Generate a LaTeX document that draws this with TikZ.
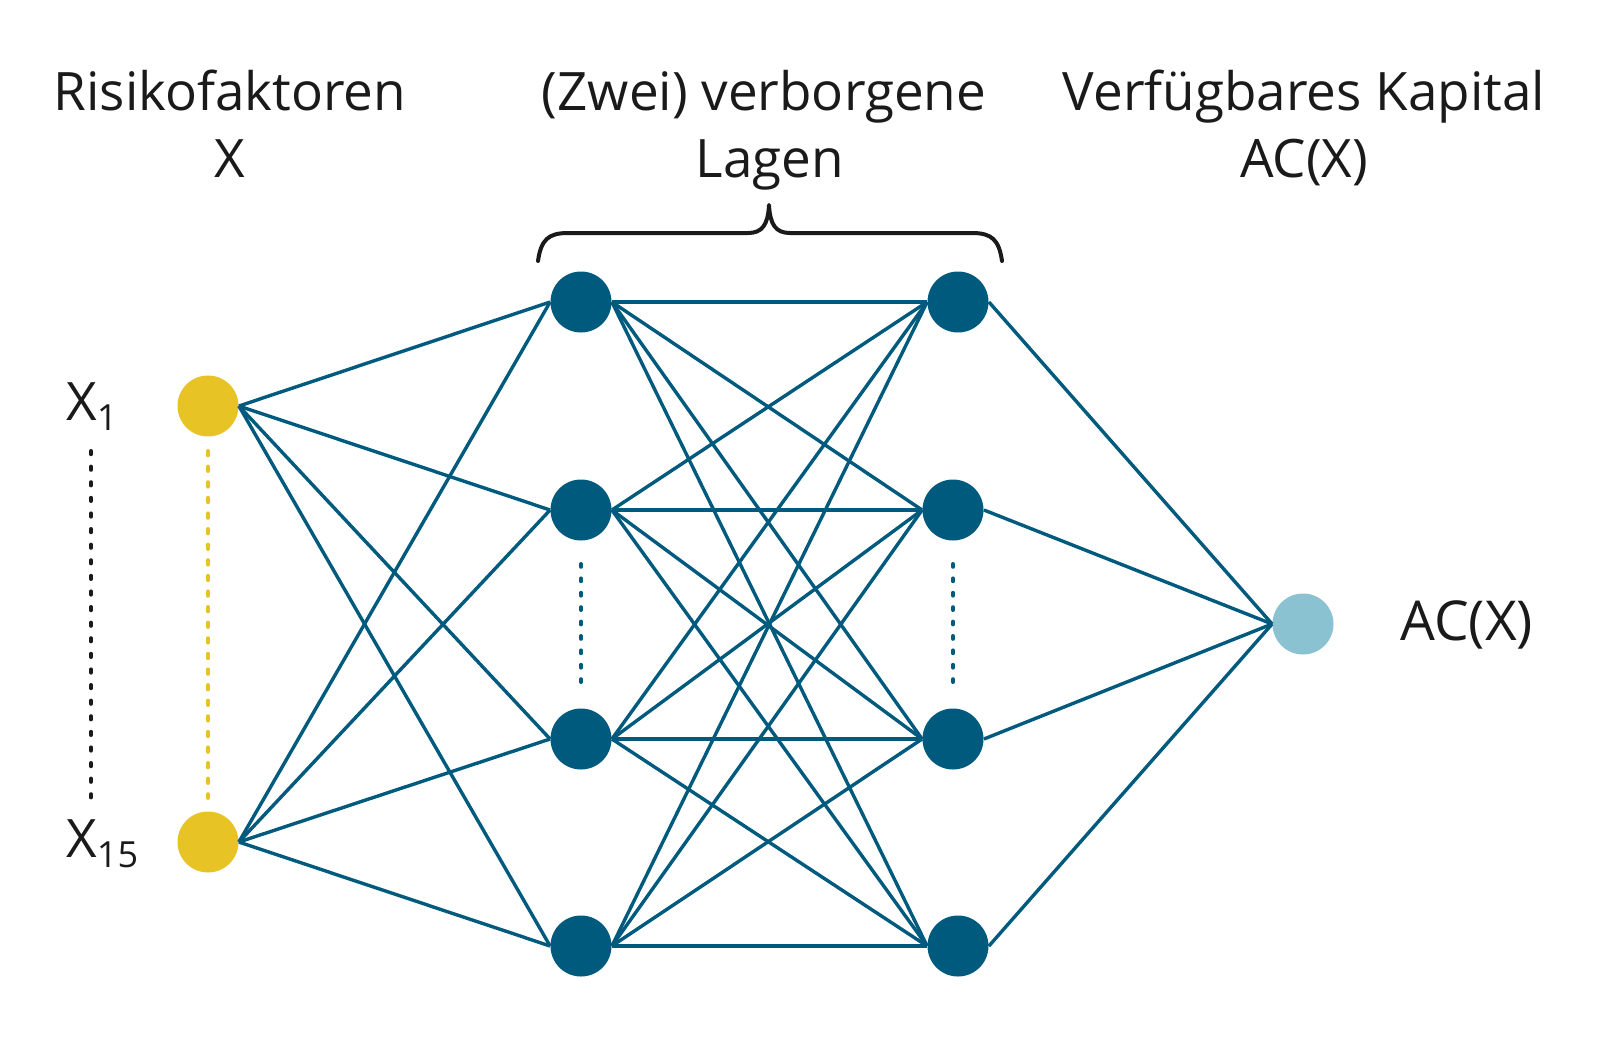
\documentclass[tikz,border=0pt]{standalone}
\usepackage{fontspec}
\setmainfont{Open Sans}
\definecolor{nnblue}{HTML}{005A7D}
\definecolor{nnyellow}{HTML}{E8C326}
\definecolor{nnlight}{HTML}{8AC2D2}
\definecolor{nntext}{HTML}{1A1A1A}
\begin{document}
\begin{tikzpicture}[x=0.5pt,y=-0.5pt,
  neuron/.style={circle,minimum size=30.5pt,inner sep=0pt,fill=nnblue},
  inneuron/.style={neuron,fill=nnyellow},
  outneuron/.style={neuron,fill=nnlight},
  conn/.style={draw=nnblue,line width=1.7pt},
  lbl/.style={text=nntext,font=\fontsize{26.5pt}{31pt}\selectfont,inner sep=0pt,anchor=base},
  dotline/.style={line width=2pt,line cap=round,dash pattern=on 1.6pt off 6.2pt}
]
\useasboundingbox (0,0) rectangle (1600,1050);

% nodes
\node[inneuron] (i1) at (208,406) {};
\node[inneuron] (i2) at (208,842) {};
\node[neuron] (a1) at (581,302) {};
\node[neuron] (a2) at (581,510) {};
\node[neuron] (a3) at (581,739) {};
\node[neuron] (a4) at (581,946) {};
\node[neuron] (b1) at (958,302) {};
\node[neuron] (b2) at (953,510) {};
\node[neuron] (b3) at (953,739) {};
\node[neuron] (b4) at (958,946) {};
\node[outneuron] (o) at (1303,624) {};

% connections
\foreach \s in {i1,i2}{\foreach \t in {a1,a2,a3,a4}{\draw[conn] (\s.east) -- (\t.west);}}
\foreach \s in {a1,a2,a3,a4}{\foreach \t in {b1,b2,b3,b4}{\draw[conn] (\s.east) -- (\t.west);}}
\foreach \s in {b1,b2,b3,b4}{\draw[conn] (\s.east) -- (o.west);}

% dotted ellipses
\coordinate (dk1) at (91,451); \coordinate (dk2) at (91,798);
\coordinate (dy1) at (208,451); \coordinate (dy2) at (208,798);
\coordinate (da1) at (581,564); \coordinate (da2) at (581,684);
\coordinate (db1) at (953,564); \coordinate (db2) at (953,684);
\draw[dotline,draw=nntext] (dk1) -- (dk2);
\draw[dotline,draw=nnyellow,dash pattern=on 2.2pt off 5.6pt] (dy1) -- (dy2);
\draw[dotline,draw=nnblue,dash pattern=on 1.4pt off 5.8pt] (da1) -- (da2);
\draw[dotline,draw=nnblue,dash pattern=on 1.4pt off 5.8pt] (db1) -- (db2);

% brace
\draw[nntext,line width=2pt,line cap=round,line join=round]
  (538,261) .. controls (541,240) and (548,233) .. (568,233)
  -- (748,233) .. controls (762,233) and (768,225) .. (769,205)
  .. controls (770,225) and (776,233) .. (790,233)
  -- (972,233) .. controls (992,233) and (999,240) .. (1002,261);

% labels
\node[lbl] (t1a) at (230,110) {Risikofaktoren};
\node[lbl] (t1b) at (230,177) {X};
\node[lbl] (t2a) at (764,110) {(Zwei) verborgene};
\node[lbl] (t2b) at (770,177) {Lagen};
\node[lbl] (t3a) at (1304,110) {Verfügbares Kapital};
\node[lbl] (t3b) at (1304,177) {AC(X)};
\node[lbl,anchor=base west] (x1) at (66,420) {X\raisebox{-5pt}{\fontsize{18pt}{20pt}\selectfont 1}};
\node[lbl,anchor=base west] (x15) at (66,857) {X\raisebox{-5pt}{\fontsize{18pt}{20pt}\selectfont 15}};
\node[lbl,anchor=base west,font=\fontsize{27.5pt}{31pt}\selectfont] (acx) at (1400,640) {AC(X)};
\end{tikzpicture}
\end{document}
